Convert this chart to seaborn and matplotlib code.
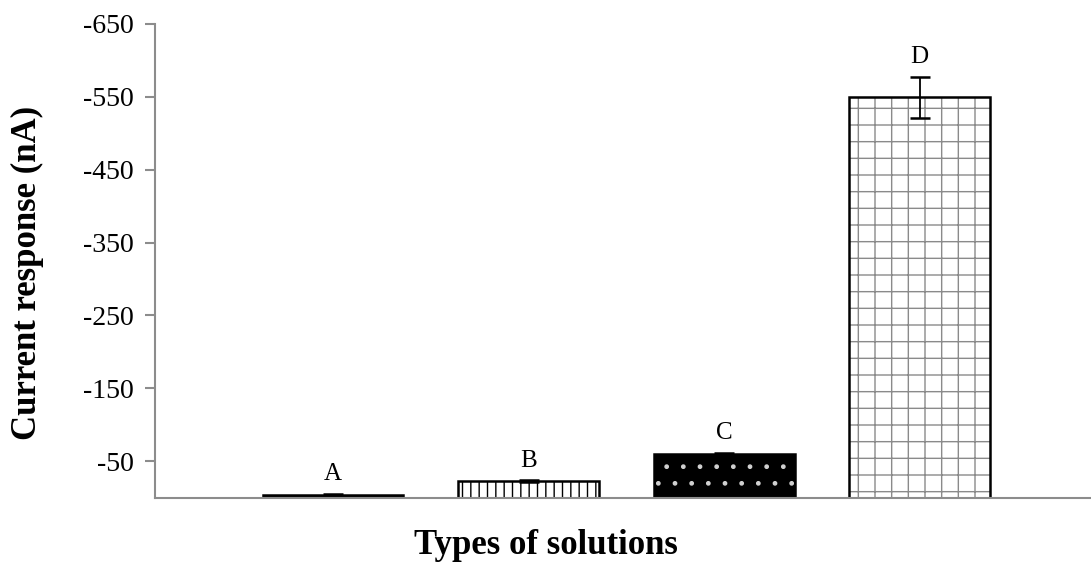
import matplotlib.pyplot as plt
import seaborn as sns
import pandas as pd
import numpy as np

# valores (nA)
soluciones = ['A', 'B', 'C', 'D']
corriente = [-4, -23, -60, -549]
error = [1, 1, 2, 28]

rellenos = ['black', 'white', 'black', 'white']
tramas = ['', '||', '.', '+']
color_trama = ['black', 'black', '#d0d0d0', '#8a8a8a']

df = pd.DataFrame({'Solucion': soluciones, 'Corriente': corriente})

sns.set_style('white')
plt.rcParams['font.family'] = ['Liberation Serif', 'DejaVu Serif']
plt.rcParams['text.color'] = 'black'

fig = plt.figure(figsize=(10.91, 5.65), dpi=100)
ax = fig.add_axes([0.142, 0.119, 0.857, 0.839])

sns.barplot(data=df, x='Solucion', y='Corriente', hue='Solucion',
            palette=dict(zip(soluciones, rellenos)), legend=False,
            width=0.72, errorbar=None, ax=ax)

# tramas de cada barra
for barra, trama, ct in zip(ax.patches, tramas, color_trama):
    barra.set_hatch(trama)
    barra.set_edgecolor(ct)
    barra.set_linewidth(0)

# contorno negro encima
sns.barplot(data=df, x='Solucion', y='Corriente', fill=False, color='black',
            width=0.72, errorbar=None, linewidth=1.8, ax=ax)

x = np.arange(len(soluciones))
ax.errorbar(x, corriente, yerr=error, fmt='none', ecolor='black',
            elinewidth=1.3, capsize=7, capthick=1.8)

for xi, v, e, s in zip(x, corriente, error, soluciones):
    ax.text(xi, v - e - 12, s, ha='center', va='bottom', fontsize=18, color='black')

ax.set_ylim(0, -650)
ax.set_xlim(-0.91, 3.87)
ax.set_yticks([-650, -550, -450, -350, -250, -150, -50])
ax.set_yticklabels(['-650', '-550', '-450', '-350', '-250', '-150', '-50'],
                   fontsize=20, color='black')
ax.set_xticks([])
ax.set_xlabel('')
ax.set_ylabel('')

for lado in ['top', 'right']:
    ax.spines[lado].set_visible(False)
for lado in ['left', 'bottom']:
    ax.spines[lado].set_color('#8c8c8c')
    ax.spines[lado].set_linewidth(1.5)
ax.tick_params(axis='y', direction='out', length=7, width=1.5, color='#8c8c8c',
               left=True, pad=8)

fig.text(0.5, 0.035, 'Types of solutions', ha='center', va='center',
         fontsize=25, fontweight='bold', color='black')
fig.text(0.025, 0.517, 'Current response (nA)', ha='center', va='center',
         rotation=90, fontsize=25, fontweight='bold', color='black')

fig.savefig('out.png', dpi=100)
